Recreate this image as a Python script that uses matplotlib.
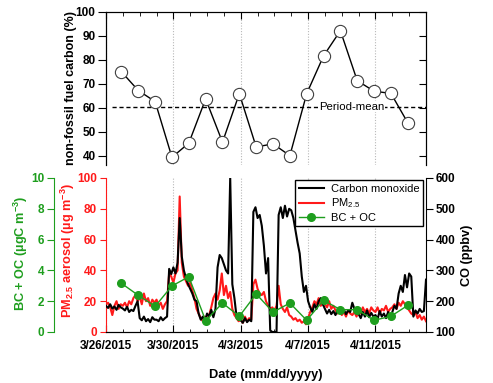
import matplotlib
matplotlib.use('Agg')
import matplotlib.pyplot as plt
import matplotlib.dates as mdates
import pandas as pd

plt.rcParams['font.family'] = ['Liberation Sans', 'DejaVu Sans']
plt.rcParams['font.weight'] = 'bold'
plt.rcParams['mathtext.default'] = 'regular'

# daily filter samples
nonfossil = [75.0, 67.2, 62.6, 39.4, 45.3, 63.7, 45.7, 65.9, 43.7,
             45.0, 40.1, 65.9, 81.6, 92.1, 71.3, 66.9, 66.0, 53.8]
bc_oc = [3.16, 2.38, 1.67, 2.99, 3.59, 0.74, 1.88, 1.02, 2.47,
         1.29, 1.88, 0.76, 2.06, 1.45, 1.45, 0.76, 1.02, 1.73]
period_mean = 60.5

# 3-hourly carbon monoxide (ppbv), from 3/26 00:00
co = [185, 178, 190, 176, 183, 172, 188, 180,
      176, 170, 182, 165, 172, 168, 185, 200,
      145, 138, 150, 135, 142, 132, 148, 140,
      140, 135, 148, 138, 145, 150, 305, 288,
      310, 290, 325, 470, 345, 300, 275, 255,
      240, 225, 205, 200, 160, 140, 150, 135,
      160, 150, 172, 148, 175, 310, 350, 340,
      320, 300, 290, 600, 255, 210, 150, 140,
      138, 130, 145, 132, 140, 135, 490, 505,
      470, 480, 445, 380, 290, 340, 105, 100,
      100, 100, 480, 505, 470, 510, 475, 500,
      495, 470, 430, 390, 355, 280, 230, 250,
      200, 180, 165, 190, 175, 200, 210, 190,
      175, 160, 172, 158, 168, 155, 170, 162,
      165, 172, 158, 170, 165, 195, 175, 160,
      158, 145, 165, 150, 170, 148, 162, 150,
      155, 142, 168, 150, 160, 145, 165, 150,
      165, 185, 175, 225, 250, 230, 285, 245,
      290, 280, 150, 170, 160, 175, 165, 168,
      270]

# 3-hourly PM2.5 (ug m-3)
pm25 = [18, 19, 16, 11, 17, 20, 15, 18,
        17, 19, 16, 20, 18, 22, 24, 20,
        23, 18, 25, 20, 22, 17, 21, 19,
        21, 17, 19, 15, 18, 20, 38, 36,
        32, 38, 40, 88, 45, 36, 33, 30,
        32, 27, 22, 15, 12, 9, 7, 10,
        8, 11, 16, 22, 25, 21, 27, 38,
        24, 30, 22, 26, 15, 11, 9, 7,
        8, 6, 10, 7, 9, 8, 31, 34,
        28, 25, 24, 26, 20, 17, 15, 16,
        14, 17, 30, 18, 15, 13, 16, 11,
        10, 8, 9, 7, 8, 6, 7, 5,
        9, 13, 16, 20, 18, 22, 17, 19,
        18, 16, 20, 15, 17, 14, 12, 15,
        11, 13, 10, 14, 12, 11, 13, 10,
        14, 12, 16, 13, 15, 12, 16, 14,
        13, 16, 12, 15, 14, 17, 13, 15,
        16, 18, 15, 19, 17, 20, 18, 16,
        14, 12, 11, 13, 9, 11, 8, 10,
        7]

date_labels = ['3/26/2015', '3/30/2015', '4/3/2015', '4/7/2015', '4/11/2015']

sample_t = pd.date_range('2015-03-26 22:00', periods=len(nonfossil), freq='D')
series_t = pd.date_range('2015-03-26 00:00', periods=len(co), freq='3h')
major_t = pd.to_datetime(date_labels, format='%m/%d/%Y')
x0, x1 = pd.Timestamp('2015-03-26'), pd.Timestamp('2015-04-14')

green = '#1e9e1e'
red = '#ff1a1a'
W, H = 493, 383

fig = plt.figure(figsize=(W / 100, H / 100), dpi=100)
ax_top = fig.add_axes([106 / W, 1 - 165 / H, 320 / W, (165 - 11.7) / H])
ax = fig.add_axes([106 / W, 1 - 332 / H, 320 / W, 154 / H])

# ---- top panel: non-fossil fraction
ax_top.plot(sample_t, nonfossil, color='black', lw=1, marker='o', ms=8.8,
            mfc='white', mec='#404040', mew=0.8, zorder=3)
ax_top.axhline(period_mean, xmin=0.02, color='black', lw=1, ls=(0, (3, 2)))
ax_top.text(pd.Timestamp('2015-04-09 14:00'), period_mean, 'Period-mean',
            ha='center', va='center', fontsize=8.2, fontweight='normal',
            bbox=dict(facecolor='white', edgecolor='none', pad=0.5))
ax_top.set_xlim(x0, x1)
ax_top.set_ylim(36.2, 100)
ax_top.set_yticks(range(40, 101, 10))
ax_top.set_xticks(major_t)
ax_top.xaxis.set_minor_locator(mdates.DayLocator())
ax_top.grid(axis='x', which='major', color='#b8b8b8', lw=0.8, ls=(0, (1, 1.5)))
ax_top.spines['bottom'].set_visible(False)
ax_top.tick_params(axis='x', which='both', bottom=False, top=True,
                   labelbottom=False, direction='in')
ax_top.tick_params(axis='x', which='major', length=5)
ax_top.tick_params(axis='x', which='minor', length=3)
ax_top.tick_params(axis='y', direction='out', length=5.5, labelsize=8.5, pad=2)
ax_top_r = ax_top.twinx()
ax_top_r.set_ylim(36.2, 100)
ax_top_r.set_yticks(range(40, 101, 10))
ax_top_r.tick_params(axis='y', direction='in', length=5, labelright=False)
ax_top_r.spines['bottom'].set_visible(False)

# ---- bottom panel: PM2.5, CO, BC+OC
ax.plot(series_t, pm25, color=red, lw=1.5)
ax.set_xlim(x0, x1)
ax.set_ylim(0, 100)
ax.set_yticks(range(0, 101, 20))
ax.set_xticks(major_t)
ax.set_xticklabels(date_labels)
ax.xaxis.set_minor_locator(mdates.DayLocator())
ax.grid(axis='x', which='major', color='#b8b8b8', lw=0.8, ls=(0, (1, 1.5)))
ax.spines['top'].set_visible(False)
ax.spines['right'].set_visible(False)
ax.spines['left'].set_color(red)
ax.tick_params(axis='y', colors=red, direction='out', length=4.5, labelsize=8.5, pad=2)
ax.tick_params(axis='x', which='both', direction='in', labelsize=8.5, pad=5.5)
ax.tick_params(axis='x', which='major', length=5)
ax.tick_params(axis='x', which='minor', length=2.5)

ax_co = ax.twinx()
l_co, = ax_co.plot(series_t, co, color='black', lw=1.5)
ax_co.set_ylim(100, 600)
ax_co.set_yticks(range(100, 601, 100))
ax_co.spines['left'].set_visible(False)
ax_co.spines['top'].set_visible(False)
ax_co.tick_params(axis='y', direction='out', length=5, labelsize=8.5, pad=2)

ax_bc = ax.twinx()
l_bc, = ax_bc.plot(sample_t, bc_oc, color=green, lw=1, marker='o', ms=5.5,
                   mfc=green, mec=green)
ax_bc.set_ylim(0, 10)
ax_bc.set_yticks(range(0, 11, 2))
ax_bc.yaxis.set_ticks_position('left')
for s in ['right', 'top', 'bottom']:
    ax_bc.spines[s].set_visible(False)
ax_bc.spines['left'].set_visible(True)
ax_bc.spines['left'].set_position(('outward', 52 * 0.72))
ax_bc.spines['left'].set_color(green)
ax_bc.tick_params(axis='y', colors=green, direction='out', length=5, labelsize=8.5, pad=2)

l_pm = plt.Line2D([], [], color=red, lw=1.5)
leg = ax_bc.legend([l_co, l_pm, l_bc], ['Carbon monoxide', 'PM$_{2.5}$', 'BC + OC'],
                   loc='upper right', bbox_to_anchor=(0.99, 0.985), borderaxespad=0,
                   prop={'size': 8, 'weight': 'normal'}, fancybox=False, framealpha=1,
                   edgecolor='black', handlelength=2.3, handletextpad=0.6,
                   labelspacing=0.25, borderpad=0.3)
leg.get_frame().set_linewidth(1)

# axis labels
fig.text(71 / W, 1 - 88 / H, 'non-fossil fuel carbon (%)', rotation=90,
         ha='center', va='center', fontsize=9)
fig.text(68 / W, 1 - 251 / H, r'PM$_{2.5}$ aerosol (µg m$^{-3}$)', rotation=90,
         ha='center', va='center', fontsize=9.2, color=red)
fig.text(21 / W, 1 - 253 / H, r'BC + OC (µgC m$^{-3}$)', rotation=90,
         ha='center', va='center', fontsize=9.2, color=green)
fig.text(467 / W, 1 - 255 / H, 'CO (ppbv)', rotation=90,
         ha='center', va='center', fontsize=9.2)
fig.text(266 / W, 1 - 375 / H, 'Date (mm/dd/yyyy)', ha='center', va='center',
         fontsize=9.2)

fig.savefig('out.png', dpi=100)
